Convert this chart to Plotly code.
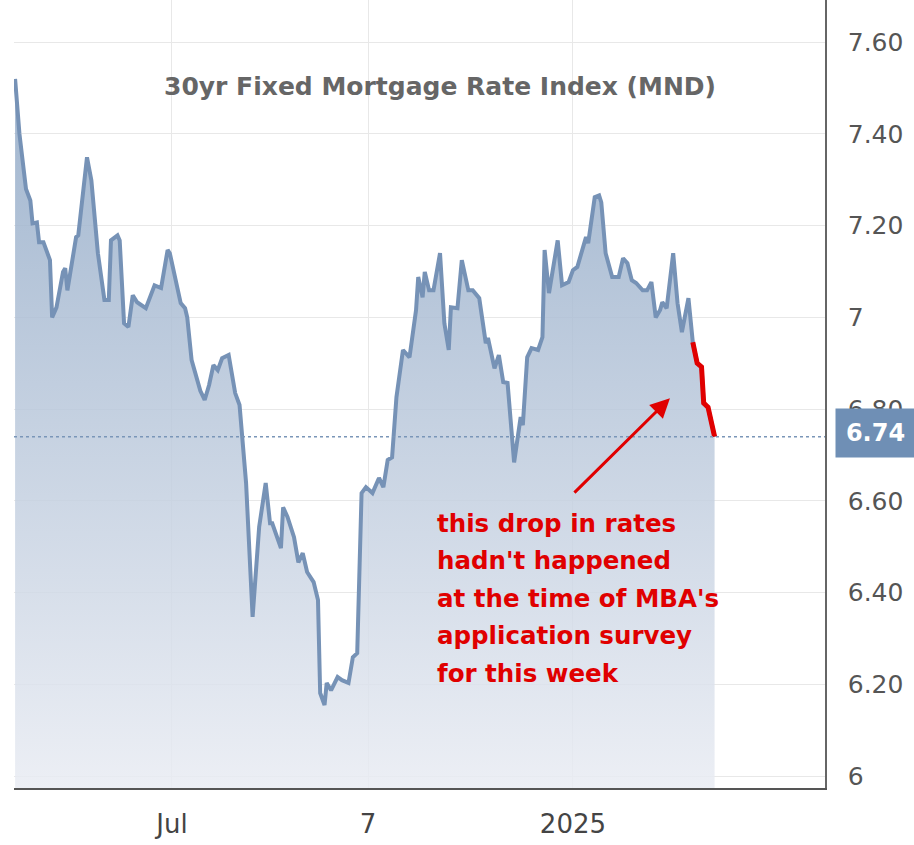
import plotly.graph_objects as go

dates = [
    "2024-04-20", "2024-04-22", "2024-04-25", "2024-04-27", "2024-04-28", "2024-04-30",
    "2024-05-01", "2024-05-03", "2024-05-06", "2024-05-07", "2024-05-09", "2024-05-12",
    "2024-05-13", "2024-05-14", "2024-05-18", "2024-05-19", "2024-05-23", "2024-05-25",
    "2024-05-28", "2024-05-31", "2024-06-02", "2024-06-03", "2024-06-06", "2024-06-07",
    "2024-06-09", "2024-06-11", "2024-06-13", "2024-06-15", "2024-06-19", "2024-06-22",
    "2024-06-23", "2024-06-26", "2024-06-29", "2024-06-30", "2024-07-05", "2024-07-07",
    "2024-07-08", "2024-07-10", "2024-07-14", "2024-07-16", "2024-07-18", "2024-07-20",
    "2024-07-22", "2024-07-24", "2024-07-27", "2024-07-30", "2024-08-01", "2024-08-04",
    "2024-08-06", "2024-08-07", "2024-08-10", "2024-08-13", "2024-08-15", "2024-08-16",
    "2024-08-20", "2024-08-21", "2024-08-23", "2024-08-26", "2024-08-28", "2024-08-30",
    "2024-09-01", "2024-09-04", "2024-09-06", "2024-09-07", "2024-09-09", "2024-09-10",
    "2024-09-12", "2024-09-15", "2024-09-17", "2024-09-20", "2024-09-22", "2024-09-24",
    "2024-09-26", "2024-09-28", "2024-10-01", "2024-10-04", "2024-10-06", "2024-10-08",
    "2024-10-10", "2024-10-12", "2024-10-15", "2024-10-18", "2024-10-21", "2024-10-22",
    "2024-10-24", "2024-10-25", "2024-10-27", "2024-10-29", "2024-11-01", "2024-11-03",
    "2024-11-05", "2024-11-06", "2024-11-09", "2024-11-11", "2024-11-14", "2024-11-16",
    "2024-11-19", "2024-11-22", "2024-11-23", "2024-11-26", "2024-11-28", "2024-11-30",
    "2024-12-02", "2024-12-05", "2024-12-08", "2024-12-09", "2024-12-11", "2024-12-13",
    "2024-12-16", "2024-12-18", "2024-12-19", "2024-12-21", "2024-12-25", "2024-12-27",
    "2024-12-30", "2025-01-01", "2025-01-03", "2025-01-06", "2025-01-07", "2025-01-08",
    "2025-01-11", "2025-01-13", "2025-01-14", "2025-01-16", "2025-01-19", "2025-01-22",
    "2025-01-24", "2025-01-26", "2025-01-28", "2025-01-30", "2025-02-02", "2025-02-04",
    "2025-02-06", "2025-02-08", "2025-02-10", "2025-02-11", "2025-02-13", "2025-02-16",
    "2025-02-18", "2025-02-20", "2025-02-23", "2025-02-25",
]
rates = [
    7.52, 7.40, 7.28, 7.255, 7.205, 7.207,
    7.164, 7.164, 7.125, 7.00, 7.022, 7.099,
    7.107, 7.059, 7.175, 7.179, 7.349, 7.299,
    7.14, 7.038, 7.038, 7.168, 7.179, 7.168,
    6.987, 6.979, 7.048, 7.033, 7.02, 7.059,
    7.07, 7.064, 7.147, 7.14, 7.031, 7.02,
    7.00, 6.907, 6.84, 6.82, 6.852, 6.896,
    6.885, 6.911, 6.918, 6.835, 6.809, 6.639,
    6.455, 6.347, 6.543, 6.639, 6.551, 6.551,
    6.497, 6.586, 6.565, 6.521, 6.466, 6.486,
    6.445, 6.423, 6.384, 6.181, 6.155, 6.203,
    6.187, 6.216, 6.209, 6.203, 6.259, 6.268,
    6.617, 6.63, 6.617, 6.65, 6.63, 6.689,
    6.695, 6.826, 6.929, 6.913, 7.016, 7.088,
    7.044, 7.099, 7.059, 7.059, 7.14, 6.987,
    6.929, 7.022, 7.02, 7.125, 7.059, 7.059,
    7.042, 6.944, 6.955, 6.889, 6.918, 6.859,
    6.857, 6.684, 6.783, 6.765, 6.913, 6.933,
    6.929, 6.957, 7.147, 7.053, 7.168, 7.07,
    7.077, 7.103, 7.11, 7.162, 7.175, 7.162,
    7.262, 7.266, 7.251, 7.14, 7.088, 7.088,
    7.129, 7.118, 7.081, 7.075, 7.059, 7.059,
    7.077, 7.00, 7.016, 7.033, 7.02, 7.14,
    7.031, 6.968, 7.042, 6.946,
]
drop_dates = ["2025-02-25", "2025-02-27", "2025-03-01", "2025-03-02", "2025-03-04", "2025-03-06", "2025-03-07"]
drop_rates = [6.946, 6.90, 6.892, 6.813, 6.804, 6.754, 6.74]

last_value = 6.74
y_ticks = [6.0, 6.2, 6.4, 6.6, 6.8, 7.0, 7.2, 7.4, 7.6]
y_tick_text = ["6", "6.20", "6.40", "6.60", "6.80", "7", "7.20", "7.40", "7.60"]
x_ticks = ["2024-07-01", "2024-09-29", "2025-01-01"]
x_tick_text = ["Jul", "7", "2025"]
title_text = "30yr Fixed Mortgage Rate Index (MND)"
note_lines = ["this drop in rates", "hadn't happened", "at the time of MBA's",
              "application survey", "for this week"]

FONT = "DejaVu Sans, sans-serif"
LINE_BLUE = "#7692b6"
RED = "#e00000"

all_dates = dates + drop_dates[1:]
all_rates = rates + drop_rates[1:]

fig = go.Figure()
fig.add_trace(go.Scatter(
    x=all_dates, y=all_rates, mode="lines",
    line=dict(color=LINE_BLUE, width=4),
    fill="tozeroy",
    fillgradient=dict(type="vertical", start=5.97, stop=7.55,
                      colorscale=[[0, "rgba(233,236,243,0.85)"],
                                  [1, "rgba(142,167,197,0.85)"]]),
    hoverinfo="skip", showlegend=False,
))
fig.add_trace(go.Scatter(
    x=drop_dates, y=drop_rates, mode="lines",
    line=dict(color=RED, width=5),
    hoverinfo="skip", showlegend=False,
))

fig.add_shape(type="line", xref="paper", x0=0, x1=1, yref="y", y0=last_value, y1=last_value,
              line=dict(color="#7a96b8", width=1.5, dash="dot"))

fig.add_annotation(xref="paper", yref="paper", x=0.525, y=0.89, text=title_text,
                   showarrow=False, xanchor="center", yanchor="middle",
                   font=dict(family=FONT, size=25, color="#666666", weight="bold"))

PLOT_H = 788.0
for i, line in enumerate(note_lines):
    y_px = 523 + 37.5 * i
    fig.add_annotation(xref="paper", yref="paper", x=0.519, y=1 - y_px / PLOT_H, text=line,
                       showarrow=False, xanchor="left", yanchor="middle", align="left",
                       font=dict(family=FONT, size=24.5, color=RED, weight="bold"))

fig.add_annotation(x="2025-02-14 12:00", y=6.824, xref="x", yref="y", text="",
                   showarrow=True, arrowhead=2, arrowsize=1.3, arrowwidth=3,
                   arrowcolor=RED, ax=-97, ay=96, standoff=0)

fig.add_annotation(xref="paper", yref="y", x=1.0123, y=last_value + 0.008, xanchor="left",
                   yanchor="middle", text=f"{last_value:.2f}", showarrow=False,
                   width=79, height=48, borderpad=0, bgcolor="#6f8fb5", align="center",
                   font=dict(family=FONT, size=24, color="white", weight="bold"))

fig.update_layout(
    width=914, height=845,
    margin=dict(l=14, r=89, t=0, b=57),
    paper_bgcolor="white", plot_bgcolor="white",
    xaxis=dict(type="date", range=["2024-04-19 12:00", "2025-04-26 16:00"],
               tickvals=x_ticks, ticktext=x_tick_text, showgrid=True,
               gridcolor="#e8e8e8", gridwidth=1, zeroline=False,
               showline=True, linecolor="#555555", linewidth=2, ticks="",
               ticklabelstandoff=12,
               tickfont=dict(family=FONT, size=26, color="#444444")),
    yaxis=dict(side="right", range=[5.974, 7.692], tickvals=y_ticks, ticktext=y_tick_text,
               showgrid=True, gridcolor="#e8e8e8", gridwidth=1, zeroline=False,
               showline=True, linecolor="#666666", linewidth=1.5, ticks="",
               ticklabelstandoff=16,
               tickfont=dict(family=FONT, size=25, color="#555555")),
)

fig.write_html("out.html", config={"displayModeBar": False},
               post_script="document.body.style.margin='0';")
